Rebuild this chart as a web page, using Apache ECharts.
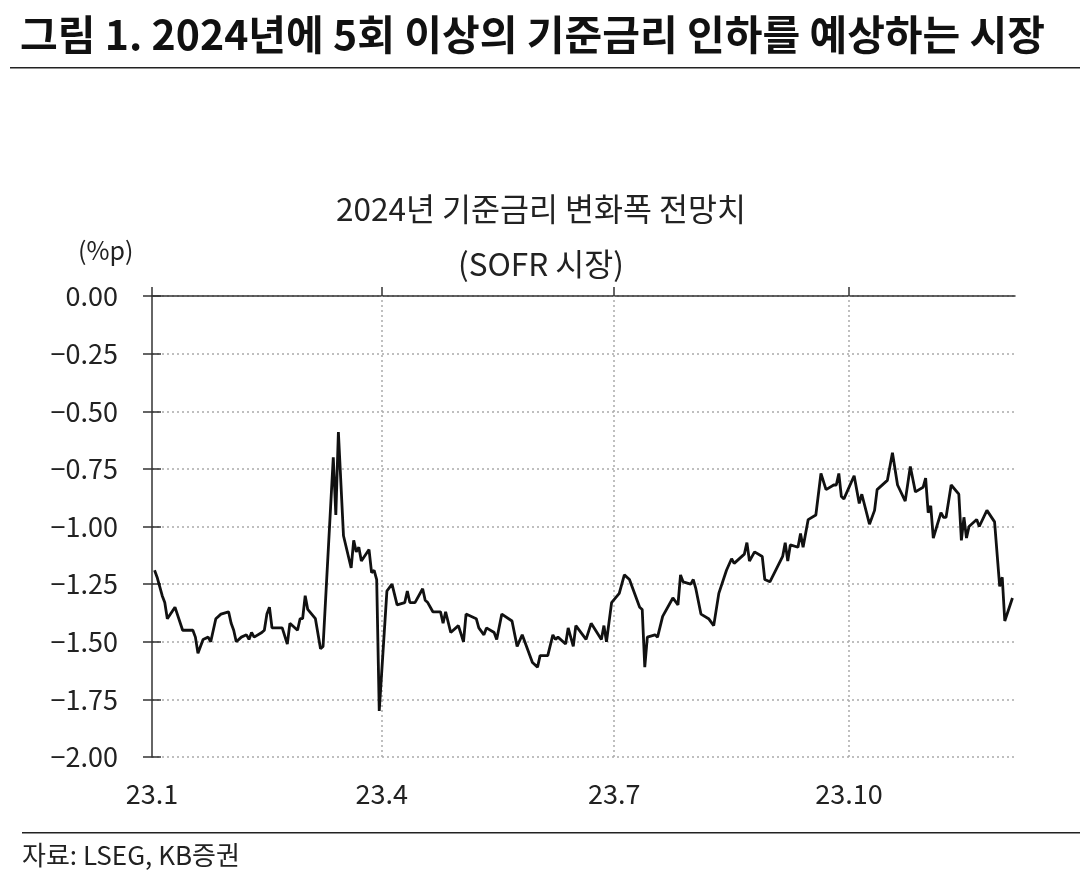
<!DOCTYPE html>
<html>
<head>
<meta charset="utf-8">
<script src="https://cdn.jsdelivr.net/npm/echarts@6/dist/echarts.min.js"></script>
<style>
  html, body { margin: 0; padding: 0; background: #fff; }
  #chart { width: 1080px; height: 886px; }
</style>
</head>
<body>
<div id="chart"></div>
<script>
const dates = [
'2023-01-02','2023-01-03','2023-01-04','2023-01-05','2023-01-06','2023-01-07','2023-01-10','2023-01-13','2023-01-17','2023-01-18',
'2023-01-19','2023-01-21','2023-01-23','2023-01-24','2023-01-26','2023-01-28','2023-01-31','2023-02-01','2023-02-02','2023-02-03',
'2023-02-05','2023-02-07','2023-02-08','2023-02-09','2023-02-10','2023-02-13','2023-02-14','2023-02-15','2023-02-16','2023-02-17',
'2023-02-21','2023-02-23','2023-02-24','2023-02-27','2023-02-28','2023-03-01','2023-03-02','2023-03-03','2023-03-06','2023-03-08',
'2023-03-09','2023-03-13','2023-03-14','2023-03-15','2023-03-17','2023-03-20','2023-03-21','2023-03-22','2023-03-23','2023-03-24',
'2023-03-27','2023-03-28','2023-03-29','2023-03-30','2023-03-31','2023-04-03','2023-04-05','2023-04-07','2023-04-10','2023-04-11',
'2023-04-12','2023-04-14','2023-04-17','2023-04-18','2023-04-19','2023-04-21','2023-04-24','2023-04-25','2023-04-26','2023-04-28',
'2023-05-01','2023-05-03','2023-05-04','2023-05-08','2023-05-09','2023-05-11','2023-05-12','2023-05-15','2023-05-16','2023-05-18',
'2023-05-22','2023-05-24','2023-05-26','2023-05-30','2023-06-01','2023-06-02','2023-06-05','2023-06-07','2023-06-08','2023-06-09',
'2023-06-12','2023-06-13','2023-06-15','2023-06-16','2023-06-20','2023-06-22','2023-06-26','2023-06-27','2023-06-28','2023-06-30',
'2023-07-03','2023-07-05','2023-07-07','2023-07-11','2023-07-12','2023-07-13','2023-07-14','2023-07-17','2023-07-18','2023-07-20',
'2023-07-24','2023-07-26','2023-07-27','2023-07-28','2023-07-31','2023-08-01','2023-08-02','2023-08-04','2023-08-07','2023-08-09',
'2023-08-11','2023-08-14','2023-08-16','2023-08-17','2023-08-21','2023-08-22','2023-08-23','2023-08-25','2023-08-28','2023-08-29',
'2023-08-31','2023-09-05','2023-09-06','2023-09-07','2023-09-08','2023-09-11','2023-09-12','2023-09-13','2023-09-15','2023-09-18',
'2023-09-20','2023-09-22','2023-09-25','2023-09-26','2023-09-27','2023-09-28','2023-09-29','2023-10-03','2023-10-05','2023-10-06',
'2023-10-09','2023-10-11','2023-10-12','2023-10-16','2023-10-18','2023-10-20','2023-10-23','2023-10-25','2023-10-27','2023-10-30',
'2023-10-31','2023-11-01','2023-11-02','2023-11-03','2023-11-06','2023-11-07','2023-11-08','2023-11-10','2023-11-13','2023-11-14',
'2023-11-15','2023-11-16','2023-11-17','2023-11-20','2023-11-21','2023-11-24','2023-11-27','2023-11-29','2023-11-30','2023-12-01',
'2023-12-04'
];
const values = [
-1.19,-1.22,-1.26,-1.30,-1.33,-1.40,-1.35,-1.45,-1.45,-1.48,
-1.55,-1.49,-1.48,-1.50,-1.40,-1.38,-1.37,-1.42,-1.45,-1.50,
-1.48,-1.47,-1.49,-1.46,-1.48,-1.46,-1.45,-1.38,-1.35,-1.44,
-1.44,-1.51,-1.42,-1.45,-1.40,-1.40,-1.30,-1.36,-1.40,-1.53,
-1.52,-0.70,-0.95,-0.59,-1.04,-1.18,-1.06,-1.11,-1.09,-1.15,
-1.10,-1.20,-1.19,-1.23,-1.80,-1.28,-1.25,-1.34,-1.33,-1.28,
-1.33,-1.33,-1.27,-1.32,-1.33,-1.37,-1.37,-1.42,-1.37,-1.46,
-1.43,-1.50,-1.38,-1.40,-1.44,-1.47,-1.44,-1.46,-1.49,-1.38,
-1.41,-1.52,-1.47,-1.59,-1.61,-1.56,-1.56,-1.47,-1.49,-1.48,
-1.51,-1.44,-1.52,-1.43,-1.49,-1.42,-1.49,-1.43,-1.50,-1.33,
-1.29,-1.21,-1.23,-1.35,-1.36,-1.61,-1.48,-1.47,-1.48,-1.39,
-1.31,-1.34,-1.21,-1.24,-1.25,-1.23,-1.27,-1.38,-1.40,-1.43,
-1.29,-1.19,-1.14,-1.16,-1.12,-1.07,-1.15,-1.11,-1.13,-1.23,
-1.24,-1.13,-1.07,-1.15,-1.08,-1.09,-1.03,-1.09,-0.97,-0.95,
-0.77,-0.84,-0.82,-0.82,-0.77,-0.87,-0.88,-0.78,-0.90,-0.86,
-0.99,-0.93,-0.84,-0.80,-0.68,-0.82,-0.89,-0.74,-0.85,-0.83,
-0.79,-0.94,-0.91,-1.05,-0.94,-0.96,-0.96,-0.82,-0.86,-1.06,
-0.96,-1.05,-1.00,-0.97,-1.00,-0.93,-0.98,-1.26,-1.22,-1.41,
-1.31
];
const tickDates = ['2023-01-01', '2023-04-01', '2023-07-01', '2023-10-01'];
const tickLabels = ['23.1', '23.4', '23.7', '23.10'];
const xMin = '2023-01-01';
const xMax = '2023-12-05';

const FONT = '"Noto Sans CJK KR", "Noto Sans", sans-serif';
function ts(s) { const p = s.split('-').map(Number); return Date.UTC(p[0], p[1] - 1, p[2]); }
const tickTs = tickDates.map(ts);

const chart = echarts.init(document.getElementById('chart'), null, { renderer: 'canvas' });
const option = {
  backgroundColor: '#ffffff',
  animation: false,
  grid: { left: 152, right: 65, top: 296, bottom: 129, containLabel: false },
  xAxis: [
    {
      type: 'value', position: 'top', min: ts(xMin), max: ts(xMax),
      axisLine: { show: true, onZero: false, lineStyle: { color: '#333', width: 1.5 } },
      axisTick: { show: true, length: 9, customValues: tickTs, lineStyle: { color: '#333', width: 1.5 } },
      axisLabel: { show: false },
      splitLine: { show: false }
    },
    {
      type: 'value', position: 'bottom', min: ts(xMin), max: ts(xMax),
      axisLine: { show: false, onZero: false },
      axisTick: { show: false },
      axisLabel: {
        show: true, margin: 23, customValues: tickTs,
        fontFamily: FONT, fontSize: 27, color: '#222',
        formatter: function (v) { const i = tickTs.indexOf(v); return i >= 0 ? tickLabels[i] : ''; }
      },
      splitLine: { show: false }
    }
  ],
  yAxis: [
    {
      type: 'value', position: 'left', min: -2, max: 0, interval: 0.25,
      axisLine: { show: true, onZero: false, lineStyle: { color: '#333', width: 1.5 } },
      axisTick: { show: true, length: 9, inside: false, lineStyle: { color: '#333', width: 1.5 } },
      axisLabel: {
        margin: 34, fontFamily: FONT, fontSize: 27, color: '#222',
        formatter: function (v) { return (v < 0 ? '\u2212' : '') + Math.abs(v).toFixed(2); }
      },
      splitLine: { show: true, lineStyle: { color: '#aaa', width: 1.5, type: [2, 3] } }
    },
    {
      type: 'value', position: 'left', min: -2, max: 0, interval: 0.25,
      axisLine: { show: false, onZero: false },
      axisTick: { show: true, length: 9, inside: true, lineStyle: { color: '#333', width: 1.5 } },
      axisLabel: { show: false },
      splitLine: { show: false }
    }
  ],
  series: [
    {
      type: 'line',
      xAxisIndex: 0, yAxisIndex: 0,
      data: dates.map((d, i) => [ts(d), values[i]]),
      showSymbol: false, symbol: 'none',
      lineStyle: { color: '#111', width: 2.8 },
      z: 5,
      markLine: {
        silent: true, symbol: 'none', label: { show: false },
        lineStyle: { color: '#aaa', width: 1.5, type: [2, 3] },
        data: tickTs.slice(1).map(t => ({ xAxis: t }))
      }
    }
  ],
  graphic: [
    { type: 'text', x: 20, y: 34, style: { text: '그림 1. 2024년에 5회 이상의 기준금리 인하를 예상하는 시장', font: 'bold 41px ' + FONT, fill: '#111', textVerticalAlign: 'middle' } },
    { type: 'rect', shape: { x: 10, y: 67, width: 1070, height: 1.5 }, style: { fill: '#222' } },
    { type: 'text', x: 541, y: 209, style: { text: '2024년 기준금리 변화폭 전망치', font: '31.5px ' + FONT, fill: '#222', textAlign: 'center', textVerticalAlign: 'middle' } },
    { type: 'text', x: 541, y: 264, style: { text: '(SOFR 시장)', font: '31.5px ' + FONT, fill: '#222', textAlign: 'center', textVerticalAlign: 'middle' } },
    { type: 'text', x: 78, y: 250, style: { text: '(%p)', font: '25px ' + FONT, fill: '#222', textVerticalAlign: 'middle' } },
    { type: 'rect', shape: { x: 22, y: 832, width: 1058, height: 1.5 }, style: { fill: '#222' } },
    { type: 'text', x: 22, y: 855, style: { text: '자료: LSEG, KB증권', font: '26px ' + FONT, fill: '#222', textVerticalAlign: 'middle' } }
  ]
};
chart.setOption(option);
</script>
</body>
</html>
